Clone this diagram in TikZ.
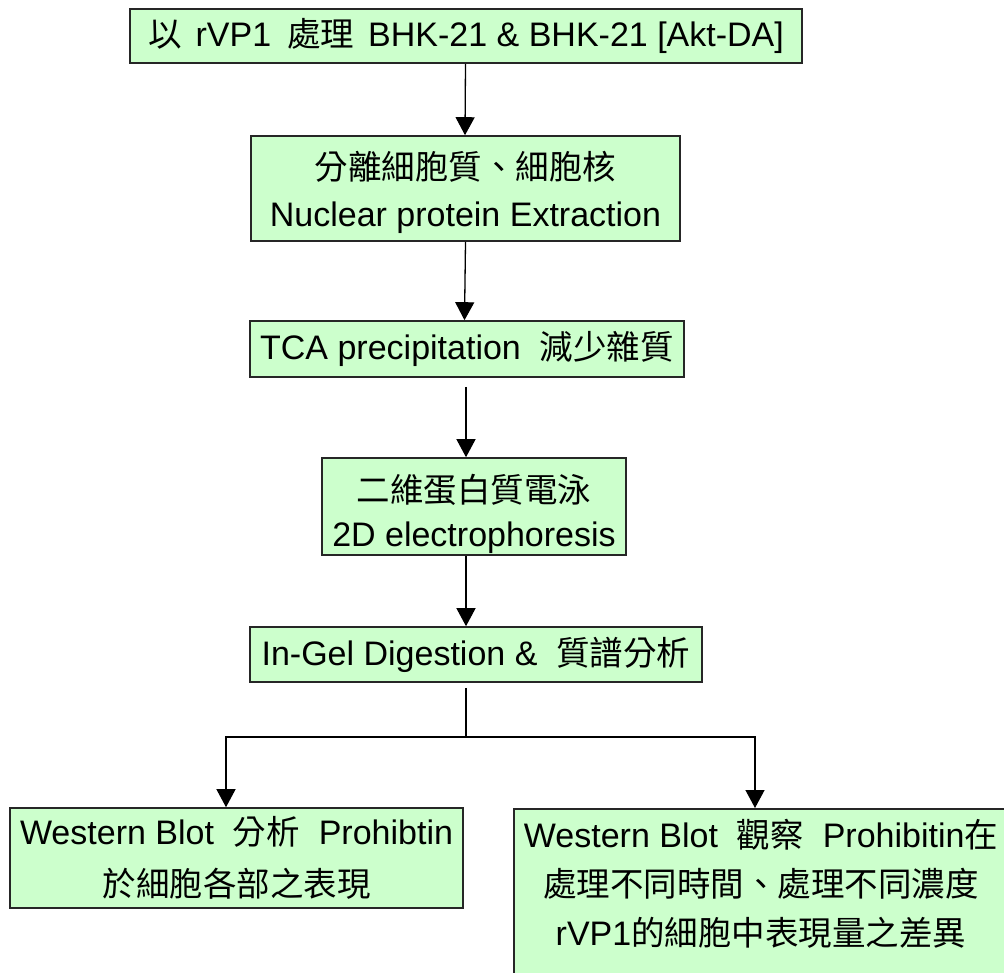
\documentclass[tikz,border=0pt]{standalone}
\usepackage{fontspec}
\setmainfont{Liberation Sans}
\newfontfamily\cjk{Noto Sans CJK TC}
\usetikzlibrary{arrows.meta,calc}
\newcommand\zhtxt[1]{{\cjk\fontsize{33.5}{40}\selectfont #1}}
\definecolor{boxgreen}{HTML}{CCFFCC}
\tikzset{
  flowbox/.style={draw=black!85, line width=1.6pt, fill=boxgreen, rectangle, inner sep=0pt,
    align=center, font=\fontsize{34}{46}\selectfont},
  flowline/.style={line width=1.3pt, black},
  flowarrow/.style={flowline, -{Triangle[length=18pt,width=19pt]}},
}
\begin{document}
\begin{tikzpicture}[x=1pt,y=1pt]
\useasboundingbox (0,0) rectangle (1004,-972);
\clip (0,0) rectangle (1004,-972);
\fill[white] (0,0) rectangle (1004,-972);

\node[flowbox, minimum width=672pt, minimum height=54pt] (b1) at (466,-36)
  {\zhtxt{以}\hspace{14pt}rVP1\hspace{16pt}\zhtxt{處理}\hspace{14pt}BHK-21 \& BHK-21 [Akt-DA]};
\node[flowbox, minimum width=429pt, minimum height=105pt] (b2) at (465.5,-188.5)
  {\rule{0pt}{36pt}\zhtxt{分離細胞質、細胞核}\\[1pt]Nuclear protein Extraction};
\node[flowbox, minimum width=434pt, minimum height=56pt] (b3) at (467,-349)
  {TCA precipitation\ \ \zhtxt{減少雜質}};
\node[flowbox, minimum width=304pt, minimum height=97pt,
  font=\fontsize{34}{44}\selectfont] (b4) at (474,-506.5)
  {\rule{0pt}{44pt}\zhtxt{二維蛋白質電泳}\\2D electrophoresis};
\node[flowbox, minimum width=452pt, minimum height=55pt] (b5) at (476,-654.5)
  {In-Gel Digestion \&\ \ \zhtxt{質譜分析}};
\node[flowbox, minimum width=453pt, minimum height=100pt,
  font=\fontsize{34}{52}\selectfont] (lb) at (236.5,-858)
  {Western Blot\ \ \zhtxt{分析}\ \ Prohibtin\\\zhtxt{於細胞各部之表現}};
\node[flowbox, minimum width=498pt, minimum height=182pt, anchor=north] (rb) at (763,-808)
  {};
\node[font=\fontsize{34}{49}\selectfont, align=center, anchor=north, inner sep=0pt] (rbt) at (761,-819)
  {Western Blot\ \ \zhtxt{觀察}\ \ Prohibitin\zhtxt{在}\\\zhtxt{處理不同時間、處理不同濃度}\\rVP1\zhtxt{的細胞中表現量之差異}};

\coordinate (split) at (466,-737);

\draw[flowarrow] ([xshift=-0.5pt]b1.south) -- ([xshift=-0.5pt]b2.north);
\draw[flowarrow] (b2.south) -- ([xshift=-1pt]b2.south |- b3.north);
\draw[flowarrow, shorten <=9pt] ([xshift=-1pt]b3.south) -- ([xshift=-1pt]b3.south |- b4.north);
\draw[flowarrow] ([xshift=-8pt]b4.south) -- ([xshift=-8pt]b4.south |- b5.north);
\draw[flowline, shorten <=5pt] ([xshift=-10pt]b5.south) -- (split);
\draw[flowarrow] (split) -| ([xshift=-10.5pt]lb.north);
\draw[flowarrow] (split) -| ([xshift=-8pt]rb.north);
\end{tikzpicture}
\end{document}
